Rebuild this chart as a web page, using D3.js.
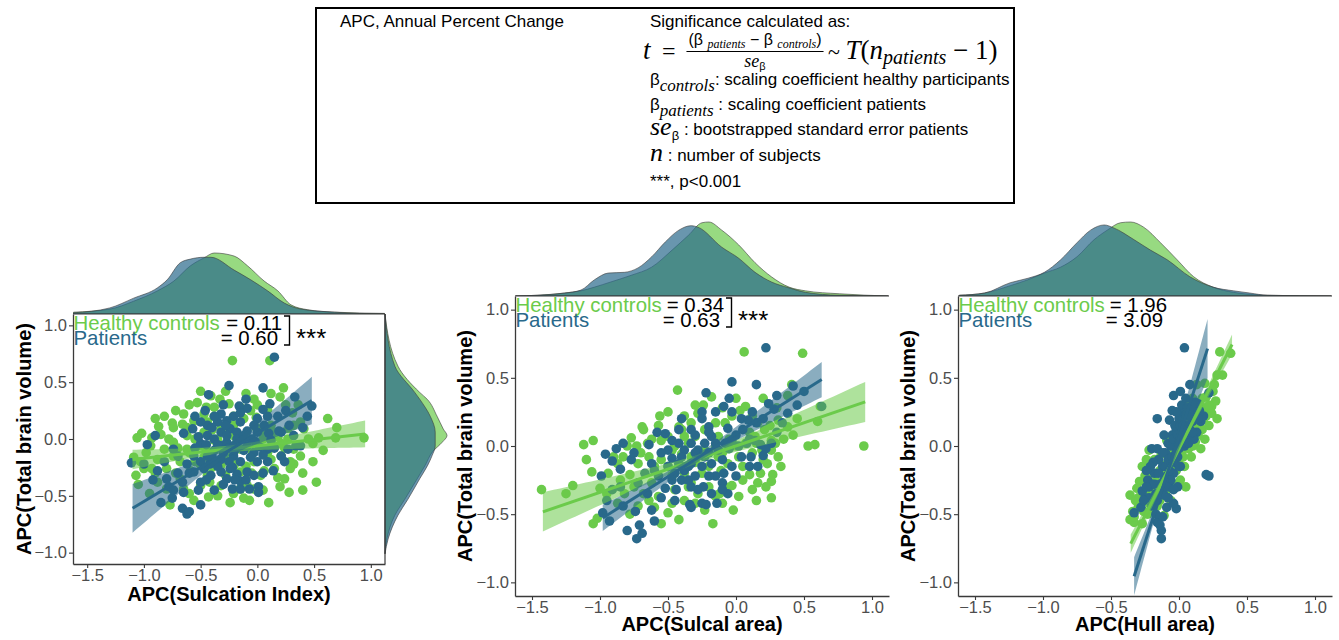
<!DOCTYPE html>
<html>
<head>
<meta charset="utf-8">
<script src="https://cdn.jsdelivr.net/npm/d3@7"></script>
<style>
  body { margin: 0; background: #fff; }
  svg { display: block; font-family: "Liberation Sans", Arial, Helvetica, sans-serif; }
</style>
</head>
<body>
<svg id="fig" width="1339" height="640"></svg>
<script>
// ---------------- data ----------------
const xTickValues = [-1.5, -1.0, -0.5, 0.0, 0.5, 1.0];
const yTickValues = [-1.0, -0.5, 0.0, 0.5, 1.0];
const groupNames = ["Healthy controls", "Patients"];
const xTitles = ["APC(Sulcation Index)", "APC(Sulcal area)", "APC(Hull area)"];
const yTitle = "APC(Total brain volume)";

// regression slopes (as printed) and intercepts per panel
const slopesControls = [0.11, 0.34, 1.96];
const slopesPatients = [0.60, 0.63, 3.09];
const interceptsControls = [-0.06, 0.0, -0.02];
const interceptsPatients = [0.05, 0.09, 0.065];
const fitRangeControls = [[-1.1, 0.95], [-1.42, 0.95], [-0.355, 0.39]];
const fitRangePatients = [[-1.1, 0.48], [-0.98, 0.63], [-0.33, 0.21]];
// confidence band: [x mean, half-width at mean, growth with distance]
const bandControls = [[-0.25, 0.03, 0.095], [-0.25, 0.03, 0.12], [0.0, 0.02, 0.18]];
const bandPatients = [[-0.30, 0.05, 0.26], [-0.30, 0.03, 0.135], [-0.12, 0.03, 0.65]];
const significance = ["***", "***", ""];

// subject-level APC values [x, APC(Total brain volume)]
const sulcationControls = [
[-0.22,0.69],[0.11,0.69],[-0.50,0.42],[-0.33,0.35],[0.23,0.45],[0.20,0.37],[-0.65,0.22],[-0.75,0.14],[-0.66,0.13],[-0.87,0.11],
[-1.02,0.05],[-1.06,0.01],[-0.93,0.01],[-0.74,0.10],[-0.56,0.16],[-0.47,0.22],[-0.38,0.28],[-0.25,0.31],[-0.06,0.25],[-0.01,0.19],
[0.09,0.26],[0.31,0.23],[0.41,0.09],[0.62,0.18],[0.54,0.01],[0.69,0.01],[0.94,0.01],[0.49,-0.04],[0.49,-0.20],[0.52,-0.38],
[0.28,-0.47],[0.29,-0.26],[0.24,-0.35],[0.18,-0.34],[0.10,-0.56],[-0.07,-0.54],[-0.21,-0.48],[-0.24,-0.56],[-0.43,-0.51],[-0.56,-0.54],
[-0.77,-0.58],[-0.88,-0.38],[-1.07,-0.32],[-1.00,-0.26],[-0.88,-0.18],[-0.82,-0.09],[-0.74,-0.15],[-0.62,-0.09],[-0.50,-0.06],[-0.38,-0.01],
[-0.59,-0.28],[-0.44,-0.32],[-0.32,-0.23],[-0.15,-0.29],[-0.03,-0.20],[0.03,-0.32],[0.15,-0.26],[0.21,-0.15],[0.09,-0.12],[0.27,0.00],
[0.32,0.12],[0.38,0.15],[0.15,0.06],[0.03,0.07],[-0.21,0.12],[-0.32,0.09],[-0.47,0.06],[-0.62,0.03],[-0.74,-0.03],[-0.94,-0.06],
[-1.09,-0.16],[-0.15,-0.09],[-0.09,-0.41],[-0.32,-0.41],[-0.50,-0.41],[-0.65,-0.44],[-0.80,-0.44],[-0.38,0.20],[-0.21,0.20],[-0.12,0.18],
[-0.01,0.10],[0.21,-0.04],[0.32,-0.09],[0.38,-0.15],[0.32,-0.22],[-0.68,-0.20],[-0.80,-0.26],[-0.47,-0.16],[-0.27,-0.15],[-0.21,0.03],
[-0.44,0.15],[-0.53,0.32],[-0.41,0.38],[-0.03,0.35],[-0.68,-0.35],[-0.93,-0.26],[-1.03,-0.20],[0.00,-0.06],[0.15,-0.06],[0.27,0.09],
[0.29,-0.20],[-0.35,-0.06],[-0.50,-0.23],[-0.15,-0.44],[-0.03,-0.44],
[-0.60,-0.12],[-0.55,0.00],[-0.45,-0.10],[-0.40,0.08],[-0.30,-0.10],[-0.25,0.05],[-0.18,-0.03],[-0.10,0.02],[-0.05,-0.10],[0.05,0.00],
[0.12,0.12],[0.18,0.02],[0.24,-0.08],[0.06,-0.28],[-0.10,-0.24],[-0.20,-0.22],[-0.40,-0.25],[-0.55,-0.20],[-0.70,-0.08],[-0.85,0.04],
[-0.98,-0.12],[-0.90,-0.30],[-0.72,-0.30],[-0.60,-0.48],[-0.35,-0.50],[-0.12,-0.52],[0.05,-0.45],[0.20,-0.42],[0.40,-0.30],[0.45,0.00],
[0.36,0.30],[0.25,0.30],[0.12,0.40],[-0.10,0.40],[-0.28,0.42],[-0.60,0.30],[-0.72,0.25],[-0.82,0.20],[-0.90,0.18],[-0.42,-0.38],
[-0.28,-0.32],[-0.05,-0.30],[0.12,-0.18],[-0.62,0.10],[-0.35,0.00],[0.00,0.30],[0.40,-0.45],[0.58,-0.10],[0.70,0.10],[-1.05,-0.40],
[-0.95,-0.48],[-0.78,0.00],[0.08,0.05],[-0.45,0.28],[-0.15,0.28]
];
const sulcationPatients = [
[0.15,0.72],[-0.25,0.47],[0.05,0.45],[-0.43,0.39],[0.33,0.37],[0.48,0.29],[0.11,0.31],[-0.09,0.27],[-0.16,0.29],[-0.32,0.22],
[-0.46,0.25],[-0.21,0.20],[0.00,0.18],[0.09,0.20],[-0.57,0.09],[-0.44,0.12],[-0.35,0.15],[-0.27,0.16],[-0.15,0.15],[-0.03,0.12],
[0.19,0.07],[0.00,0.06],[-0.90,0.03],[-0.97,-0.05],[-1.11,-0.21],[-0.88,-0.28],[-0.85,-0.56],[-0.75,-0.52],[-0.74,-0.45],[-0.66,-0.38],
[-0.65,-0.47],[-0.66,-0.61],[-0.62,-0.66],[-0.60,-0.64],[-0.50,-0.58],[-0.38,-0.45],[-0.22,-0.44],[-0.15,-0.44],[-0.07,-0.44],[0.01,-0.42],
[0.01,-0.47],[-0.18,-0.31],[-0.09,-0.29],[0.00,-0.20],[0.09,-0.20],[0.24,-0.20],[0.09,-0.09],[0.21,0.06],[0.34,-0.06],[0.27,-0.09],
[-0.47,-0.26],[-0.41,-0.32],[-0.32,-0.29],[-0.24,-0.26],[-0.50,-0.20],[-0.44,-0.15],[-0.38,-0.10],[-0.32,-0.06],[-0.27,-0.03],[-0.21,-0.06],
[-0.15,0.00],[-0.09,-0.06],[-0.03,-0.12],[-0.21,-0.15],[-0.15,-0.20],[-0.32,-0.18],[-0.38,-0.20],[-0.56,-0.29],[-0.56,-0.15],[-0.44,0.03],
[-0.32,0.06],[-0.24,0.09],[-0.18,0.06],[-0.09,0.07],[-0.74,-0.09],[-0.82,-0.20],[-0.80,-0.35],[0.02,-0.07],[0.12,-0.01],[0.18,0.20],
[0.06,0.12],[-0.15,0.23],[-0.38,0.20],[-0.50,0.15],[-0.27,-0.35],[-0.15,-0.37],[-0.03,-0.32],[-0.50,-0.38],[-0.62,-0.22],[0.21,-0.15],
[0.32,0.03],[0.38,-0.06],[-0.27,0.03],[-0.38,0.00],[-0.50,-0.04],
[-0.45,-0.05],[-0.40,-0.15],[-0.35,-0.24],[-0.30,-0.12],[-0.25,-0.20],[-0.20,-0.10],[-0.18,0.00],[-0.12,-0.10],[-0.06,-0.16],[-0.02,-0.02],
[0.05,-0.14],[0.10,0.05],[0.15,-0.08],[-0.28,0.12],[-0.40,0.10],[-0.52,0.02],[-0.55,-0.08],[-0.60,-0.30],[-0.52,-0.45],[-0.45,-0.36],
[-0.30,-0.40],[-0.20,-0.36],[-0.10,-0.36],[0.05,-0.30],[0.14,-0.28],[-0.70,-0.30],[-0.78,-0.42],[-0.92,-0.36],[-1.00,-0.22],[-0.70,-0.15],
[-0.65,0.05],[-0.55,0.20],[-0.30,0.30],[-0.10,0.35],[0.05,0.26],[0.25,0.25],[0.28,0.12],[0.40,0.10],[0.44,0.20],[-0.35,-0.05],
[-0.25,-0.08],[-0.12,0.03],[-0.42,-0.22],[-0.05,0.00],[-0.22,-0.25]
];
const sulcalAreaControls = [
[0.06,0.69],[0.49,0.68],[-0.43,0.41],[-1.43,-0.32],[-1.20,-0.29],[-1.12,0.01],[-1.05,0.04],[-1.06,-0.19],[-1.00,-0.31],[-1.05,-0.57],
[-1.02,-0.53],[0.94,0.00],[0.53,0.00],[0.58,0.01],[0.60,0.18],[0.62,0.29],[0.42,0.08],[0.41,0.45],[0.38,0.37],[0.38,0.14],
[0.31,0.19],[0.29,0.02],[0.26,-0.03],[0.27,-0.21],[0.26,-0.26],[0.26,-0.38],[0.23,-0.13],[0.18,-0.20],[0.10,-0.21],[0.07,0.29],
[0.12,0.22],[0.03,0.26],[-0.02,-0.47],[-0.03,-0.29],[-0.12,-0.35],[-0.11,-0.18],[-0.17,-0.57],[-0.18,0.36],[-0.24,0.30],[-0.28,0.24],
[-0.33,0.17],[-0.38,0.22],[-0.56,0.22],[-0.57,0.15],[-0.69,0.14],[-0.68,0.12],[-0.77,0.06],[-0.73,0.00],[-0.83,-0.08],[-0.87,-0.13],
[-0.94,-0.20],[-0.78,-0.21],[-0.72,-0.13],[-0.64,-0.08],[-0.60,-0.15],[-0.55,0.04],[-0.50,0.07],[-0.47,-0.03],[-0.62,-0.27],[-0.57,-0.37],
[-0.50,-0.49],[-0.55,-0.57],[-0.42,-0.54],[-0.47,-0.42],[-0.38,-0.40],[-0.30,-0.42],[-0.23,-0.47],[-0.15,-0.37],[-0.08,-0.30],[-0.33,-0.27],
[-0.25,-0.20],[-0.38,-0.20],[-0.47,-0.22],[-0.42,-0.13],[-0.33,-0.08],[-0.23,-0.03],[-0.13,-0.08],[-0.06,-0.13],[0.02,-0.08],[0.07,0.02],
[0.14,0.07],[0.16,0.17],[0.21,0.12],[0.31,-0.08],[-0.13,0.07],[-0.08,0.17],[-0.03,0.22],[-0.15,0.17],[-0.23,0.12],[-0.30,0.07],
[-0.38,0.07],[-0.42,0.14],[-0.82,-0.35],[-0.87,-0.42],[-0.72,-0.44],[-0.64,-0.40],[-0.28,-0.35],[0.02,-0.37],[0.12,-0.32],[0.16,-0.27],
[0.19,-0.03],[0.26,0.04],
[-0.55,-0.10],[-0.50,-0.15],[-0.45,0.00],[-0.40,-0.06],[-0.35,0.02],[-0.30,-0.12],[-0.25,-0.06],[-0.20,-0.15],[-0.15,0.00],[-0.10,-0.05],
[-0.05,0.05],[0.00,0.00],[0.05,-0.15],[0.10,0.10],[0.15,0.02],[0.20,-0.10],[0.25,0.15],[0.35,0.05],[0.45,0.20],[-0.65,0.02],
[-0.70,-0.05],[-0.80,0.00],[-0.90,-0.08],[-0.95,-0.35],[-0.85,-0.25],[-0.75,-0.30],[-0.68,-0.35],[-0.60,-0.45],[-0.45,-0.32],[-0.35,-0.30],
[-0.20,-0.30],[-0.10,-0.42],[0.05,-0.25],[0.15,-0.40],[0.22,-0.30],[-0.30,0.30],[-0.10,0.28],[0.00,0.35],[0.20,0.35],[0.30,0.28],
[-0.50,0.25],[-0.62,0.05],[-1.10,-0.10],[-1.25,-0.35],[-0.78,-0.50],[-0.40,0.12],[0.12,-0.05],[0.33,-0.15]
];
const sulcalAreaPatients = [
[0.22,0.72],[-0.03,0.47],[0.15,0.45],[-0.22,0.39],[0.30,0.37],[0.63,0.29],[0.42,0.44],[0.24,0.31],[0.28,0.27],[-0.09,0.29],
[-0.03,0.25],[-0.25,0.25],[-0.25,0.20],[0.04,0.20],[0.09,0.19],[0.15,0.17],[-0.06,0.13],[-0.83,0.02],[-0.64,0.01],[-0.96,-0.06],
[-0.91,-0.11],[-0.85,-0.17],[-0.99,-0.22],[-0.98,-0.49],[-0.93,-0.55],[-0.83,-0.44],[-0.80,-0.62],[-0.73,-0.68],[-0.69,-0.64],[-0.71,-0.58],
[-0.74,-0.48],[-0.62,-0.47],[-0.52,-0.31],[-0.44,-0.32],[-0.34,-0.43],[-0.33,-0.45],[-0.25,-0.42],[-0.22,-0.43],[-0.14,-0.42],[-0.33,-0.30],
[-0.24,-0.30],[-0.15,-0.22],[-0.09,-0.20],[-0.03,-0.15],[0.04,-0.08],[0.10,-0.15],[0.16,-0.15],[0.11,-0.08],[0.20,-0.07],[0.02,0.00],
[0.08,0.02],[0.14,0.04],[0.18,0.01],[-0.52,0.09],[-0.42,0.12],[-0.50,-0.03],[-0.47,-0.09],[-0.42,-0.13],[-0.38,-0.18],[-0.33,-0.13],
[-0.28,-0.03],[-0.23,-0.08],[-0.18,-0.13],[-0.13,-0.03],[-0.08,0.02],[-0.03,0.04],[-0.33,0.02],[-0.38,-0.03],[-0.42,0.02],[-0.47,0.04],
[-0.62,-0.13],[-0.67,-0.20],[-0.72,-0.27],[-0.57,-0.22],[-0.47,-0.25],[-0.40,-0.25],[-0.30,-0.22],[-0.20,-0.22],[-0.10,-0.27],[-0.06,-0.35],
[-0.23,0.02],[-0.20,0.14],[-0.33,0.12],[-0.18,0.07],[0.26,0.02],[0.34,0.17],[0.38,0.24],[-0.77,-0.10],[-0.91,-0.32],
[-0.60,-0.18],[-0.55,-0.05],[-0.50,-0.15],[-0.45,-0.20],[-0.40,-0.08],[-0.35,-0.15],[-0.30,-0.05],[-0.25,-0.15],[-0.20,-0.05],[-0.15,0.02],
[-0.10,-0.10],[-0.05,-0.02],[0.00,0.08],[0.05,0.12],[0.10,0.05],[0.12,0.25],[0.20,0.20],[-0.35,-0.25],[-0.28,-0.32],[-0.18,-0.35],
[-0.55,-0.38],[-0.65,-0.35],[-0.85,-0.30],[-0.95,-0.40],[-0.60,-0.55],[-0.45,-0.40],[0.30,0.10],[0.45,0.30],[0.50,0.40],[-0.15,0.25],
[-0.05,0.35],[-0.40,0.20],[-0.58,0.10],[-0.75,-0.05],[-0.88,-0.02],[-0.10,-0.32],[0.00,-0.22],[0.22,-0.02],[-0.30,0.08],[-0.20,0.10]
];
const hullControls = [
[-0.36,-0.36],[-0.36,-0.54],[-0.33,-0.56],[-0.27,-0.57],[-0.33,-0.52],[-0.30,-0.45],[-0.28,-0.40],[-0.25,-0.22],[-0.22,-0.03],[-0.11,-0.51],
[-0.25,-0.33],[-0.22,-0.42],[-0.20,-0.30],[-0.18,-0.38],[-0.17,-0.26],[-0.15,-0.33],[-0.14,-0.18],[-0.12,-0.28],[-0.10,-0.14],[-0.10,-0.35],
[-0.08,-0.22],[-0.07,-0.08],[-0.05,-0.18],[-0.04,-0.02],[-0.03,-0.28],[-0.02,0.05],[0.00,-0.10],[0.00,0.02],[0.02,-0.05],[0.03,0.10],
[0.04,-0.15],[0.05,0.06],[0.06,0.15],[0.07,-0.02],[0.08,0.20],[0.09,0.08],[0.10,0.25],[0.11,0.14],[0.12,0.03],[0.13,0.22],
[0.14,0.30],[0.15,0.12],[0.17,0.12],[0.17,0.35],[0.18,0.20],[0.19,0.46],[0.20,0.36],[0.21,0.28],[0.22,0.15],[0.24,0.29],
[0.24,0.24],[0.25,0.40],[0.27,0.33],[0.30,0.69],[0.38,0.68],[0.32,0.52],[0.11,0.14],[-0.21,-0.12],[-0.19,-0.48],[-0.16,-0.44],
[-0.13,-0.06],[-0.06,-0.40],[0.01,-0.25],[0.05,-0.30],[0.09,-0.08],[0.13,0.45],[0.16,-0.02],[-0.29,-0.26],[-0.24,-0.10],[-0.31,-0.31],
[-0.23,-0.50],[-0.09,0.04],[0.02,0.22],[0.07,0.33],[0.19,0.05],
[-0.30,-0.38],[-0.26,-0.48],[-0.24,-0.28],[-0.20,-0.20],[-0.18,-0.10],[-0.16,-0.30],[-0.14,-0.40],[-0.12,-0.20],[-0.10,-0.25],[-0.08,-0.12],
[-0.06,-0.05],[-0.04,-0.12],[-0.02,-0.18],[0.00,0.10],[0.02,0.05],[0.04,0.00],[0.06,0.00],[0.08,0.10],[0.10,0.00],[0.12,0.18],
[0.14,0.08],[0.16,0.25],[0.18,0.28],[0.20,0.22],[0.22,0.30],[0.26,0.45],[0.28,0.52],[0.28,0.20],[-0.34,-0.48],[-0.32,-0.40],
[-0.27,-0.15],[-0.22,-0.35],[0.10,0.35],[-0.05,-0.30],[0.03,-0.08]
];
const hullPatients = [
[0.04,0.72],[0.08,0.45],[-0.04,0.37],[-0.16,0.20],[-0.07,0.19],[-0.20,-0.02],[-0.33,-0.49],[-0.16,-0.56],[-0.13,-0.62],[-0.13,-0.68],
[0.20,-0.21],[0.22,-0.22],[0.22,0.39],[0.15,0.26],[0.14,0.31],[0.09,0.29],[-0.02,-0.46],[-0.09,-0.45],[-0.04,-0.42],[-0.25,-0.38],
[-0.22,-0.30],[-0.20,-0.44],[-0.18,-0.20],[-0.17,-0.35],[-0.15,-0.10],[-0.14,-0.28],[-0.12,-0.15],[-0.11,-0.36],[-0.10,-0.05],[-0.09,-0.22],
[-0.08,0.02],[-0.07,-0.30],[-0.06,-0.12],[-0.05,0.08],[-0.04,-0.20],[-0.03,0.00],[-0.02,0.12],[-0.01,-0.08],[0.00,0.05],[0.00,0.20],
[0.01,-0.15],[0.02,0.10],[0.03,0.25],[0.04,0.00],[0.05,0.15],[0.06,0.06],[0.07,0.22],[0.08,0.12],[0.10,0.18],[0.12,0.25],
[0.13,0.10],[-0.23,-0.25],[-0.27,-0.33],[-0.19,-0.12],[-0.12,-0.52],[-0.14,-0.58],[-0.08,-0.38],[-0.06,-0.25],[-0.01,-0.30],[0.02,0.30],
[-0.03,0.15],[0.05,0.35],[0.11,0.05],[-0.16,-0.02],[-0.21,-0.15],[-0.11,0.08],[0.01,0.40],[-0.05,0.26],[0.16,0.18],[0.18,0.22],
[-0.24,-0.18],[-0.28,-0.45],
[-0.22,-0.38],[-0.20,-0.28],[-0.18,-0.28],[-0.16,-0.40],[-0.15,-0.20],[-0.13,-0.30],[-0.12,-0.05],[-0.10,-0.15],[-0.09,-0.30],[-0.08,-0.10],
[-0.07,-0.18],[-0.06,0.00],[-0.05,-0.08],[-0.04,0.05],[-0.03,-0.12],[-0.02,-0.05],[-0.02,0.25],[-0.01,0.08],[0.00,-0.02],[0.01,0.15],
[0.02,0.02],[0.03,0.15],[0.04,0.10],[0.05,0.22],[0.06,0.28],[0.08,0.22],[0.10,0.10],[0.12,0.32],[0.14,0.20],[-0.26,-0.40],
[-0.24,-0.30],[-0.17,-0.50],[-0.11,-0.25],[-0.04,-0.32],[0.00,-0.15],[0.07,0.02]
];

// marginal densities [value, relative density]
const densTopSulcationControls = [[-1.62,0.03],[-1.30,0.08],[-1.09,0.21],[-0.88,0.38],[-0.736,0.54],[-0.59,0.79],[-0.47,0.92],[-0.38,1.0],[-0.205,0.95],[-0.087,0.79],[0.06,0.54],[0.18,0.38],[0.296,0.15],[0.444,0.07],[0.68,0.03],[1.12,0.01]];
const densTopSulcationPatients = [[-1.62,0.02],[-1.30,0.10],[-1.09,0.26],[-0.88,0.43],[-0.795,0.56],[-0.68,0.84],[-0.59,0.90],[-0.47,0.93],[-0.41,0.93],[-0.205,0.72],[-0.058,0.56],[0.09,0.38],[0.237,0.18],[0.385,0.08],[0.68,0.03],[1.12,0.0]];
const densRightSulcationControls = [[1.10,0.0],[0.64,0.21],[0.41,0.56],[0.35,0.68],[0.20,0.84],[0.088,0.94],[0.03,1.0],[-0.03,0.92],[-0.11,0.77],[-0.23,0.65],[-0.35,0.52],[-0.53,0.32],[-0.67,0.16],[-0.88,0.03],[-1.01,0.0]];
const densRightSulcationPatients = [[1.10,0.0],[0.64,0.16],[0.41,0.48],[0.35,0.56],[0.20,0.73],[0.06,0.81],[-0.06,0.81],[-0.146,0.76],[-0.23,0.69],[-0.35,0.56],[-0.53,0.37],[-0.67,0.21],[-0.88,0.05],[-1.01,0.0]];
const densTopSulcalAreaControls = [[-1.62,0.0],[-1.46,0.01],[-1.26,0.04],[-1.14,0.07],[-1.04,0.12],[-0.92,0.19],[-0.77,0.28],[-0.62,0.39],[-0.47,0.62],[-0.35,0.82],[-0.25,0.99],[-0.20,1.0],[-0.105,0.89],[0.02,0.69],[0.14,0.45],[0.26,0.26],[0.39,0.12],[0.51,0.07],[0.76,0.03],[1.12,0.0]];
const densTopSulcalAreaPatients = [[-1.62,0.0],[-1.46,0.01],[-1.26,0.04],[-1.14,0.08],[-1.04,0.22],[-0.94,0.31],[-0.82,0.32],[-0.72,0.38],[-0.62,0.53],[-0.52,0.73],[-0.42,0.89],[-0.33,0.95],[-0.28,0.93],[-0.105,0.66],[0.02,0.51],[0.14,0.32],[0.26,0.19],[0.39,0.11],[0.51,0.05],[0.76,0.01],[1.12,0.0]];
const densTopHullControls = [[-1.615,0.01],[-1.43,0.04],[-1.24,0.14],[-1.11,0.22],[-0.99,0.31],[-0.87,0.39],[-0.75,0.53],[-0.625,0.76],[-0.527,0.89],[-0.43,0.99],[-0.356,1.0],[-0.26,0.93],[-0.136,0.72],[-0.014,0.49],[0.108,0.26],[0.25,0.12],[0.40,0.05],[0.65,0.01],[1.12,0.0]];
const densTopHullPatients = [[-1.615,0.01],[-1.43,0.04],[-1.24,0.18],[-1.11,0.24],[-0.99,0.32],[-0.87,0.49],[-0.75,0.72],[-0.65,0.89],[-0.55,0.96],[-0.48,0.92],[-0.33,0.76],[-0.21,0.62],[-0.087,0.49],[0.08,0.26],[0.25,0.12],[0.40,0.07],[0.52,0.04],[0.65,0.01],[1.12,0.0]];

// ---------------- drawing ----------------
const colControls = "#6bcb4b";
const colPatients = "#29698b";
const sans = '"Liberation Sans", Arial, Helvetica, sans-serif';
const serif = '"Liberation Serif", "Times New Roman", Times, serif';
const svg = d3.select("#fig");

const panels = [
  { left: 73,  right: 385,  top: 314, bottom: 564, densH: 61, rightDensW: 62, yTitleX: 31,  xTitleY: 601,
    ctl: sulcationControls, pat: sulcationPatients, dTopC: densTopSulcationControls, dTopP: densTopSulcationPatients,
    dRightC: densRightSulcationControls, dRightP: densRightSulcationPatients },
  { left: 515, right: 889,  top: 296, bottom: 596, densH: 74, yTitleX: 472, xTitleY: 631,
    ctl: sulcalAreaControls, pat: sulcalAreaPatients, dTopC: densTopSulcalAreaControls, dTopP: densTopSulcalAreaPatients },
  { left: 958, right: 1332, top: 296, bottom: 596, densH: 74, yTitleX: 915, xTitleY: 631,
    ctl: hullControls, pat: hullPatients, dTopC: densTopHullControls, dTopP: densTopHullPatients }
];

panels.forEach((p, i) => {
  const g = svg.append("g");
  const x = d3.scaleLinear().domain([-1.625, 1.125]).range([p.left, p.right]);
  const y = d3.scaleLinear().domain([-1.1, 1.1]).range([p.bottom, p.top]);

  const clipId = "clip" + i;
  svg.append("clipPath").attr("id", clipId).append("rect")
    .attr("x", p.left).attr("y", p.top).attr("width", p.right - p.left).attr("height", p.bottom - p.top);

  // top marginal density
  const dy = d3.scaleLinear().domain([0, 1]).range([p.top, p.top - p.densH]);
  const topArea = d3.area().x(d => x(d[0])).y0(p.top).y1(d => dy(d[1])).curve(d3.curveMonotoneX);
  const topClip = "tclip" + i;
  svg.append("clipPath").attr("id", topClip).append("rect")
    .attr("x", p.left).attr("y", p.top - p.densH - 5).attr("width", p.right - p.left).attr("height", p.densH + 5);
  const tg = g.append("g").attr("clip-path", `url(#${topClip})`);
  [[p.dTopC, colControls], [p.dTopP, colPatients]].forEach(([d, c]) => {
    tg.append("path").datum(d).attr("d", topArea)
      .attr("fill", c).attr("fill-opacity", 0.7)
      .attr("stroke", "#3a3a3a").attr("stroke-width", 0.6);
  });
  g.append("line").attr("x1", p.left).attr("x2", p.right).attr("y1", p.top).attr("y2", p.top)
    .attr("stroke", "#3a3a3a").attr("stroke-width", 1.2);

  // right marginal density
  if (p.dRightC) {
    const dx = d3.scaleLinear().domain([0, 1]).range([p.right, p.right + p.rightDensW]);
    const rightArea = d3.area().y(d => y(d[0])).x0(p.right).x1(d => dx(d[1])).curve(d3.curveMonotoneY);
    [[p.dRightC, colControls], [p.dRightP, colPatients]].forEach(([d, c]) => {
      g.append("path").datum(d).attr("d", rightArea)
        .attr("fill", c).attr("fill-opacity", 0.7)
        .attr("stroke", "#3a3a3a").attr("stroke-width", 0.6);
    });
    g.append("line").attr("x1", p.right).attr("x2", p.right).attr("y1", p.top).attr("y2", p.bottom)
      .attr("stroke", "#3a3a3a").attr("stroke-width", 1.2);
  }

  // points
  const pg = g.append("g").attr("clip-path", `url(#${clipId})`);
  [[p.ctl, colControls], [p.pat, colPatients]].forEach(([d, c]) => {
    pg.append("g").selectAll("circle").data(d).join("circle")
      .attr("cx", v => x(v[0])).attr("cy", v => y(v[1])).attr("r", 4.8).attr("fill", c);
  });

  // fitted lines with confidence bands
  const fits = [
    { slope: slopesControls[i], icpt: interceptsControls[i], range: fitRangeControls[i], band: bandControls[i], col: colControls },
    { slope: slopesPatients[i], icpt: interceptsPatients[i], range: fitRangePatients[i], band: bandPatients[i], col: colPatients }
  ];
  fits.forEach(f => {
    const xs = d3.range(0, 61).map(k => f.range[0] + (f.range[1] - f.range[0]) * k / 60);
    const hw = v => Math.sqrt(f.band[1] ** 2 + (f.band[2] * (v - f.band[0])) ** 2);
    const band = d3.area().x(v => x(v))
      .y0(v => y(f.icpt + f.slope * v - hw(v)))
      .y1(v => y(f.icpt + f.slope * v + hw(v)));
    pg.append("path").datum(xs).attr("d", band).attr("fill", f.col).attr("fill-opacity", 0.55);
    pg.append("line")
      .attr("x1", x(f.range[0])).attr("y1", y(f.icpt + f.slope * f.range[0]))
      .attr("x2", x(f.range[1])).attr("y2", y(f.icpt + f.slope * f.range[1]))
      .attr("stroke", f.col).attr("stroke-width", 3);
  });

  // axes
  const fmt = d3.format(".1f");
  const xa = g.append("g").attr("transform", `translate(0,${p.bottom})`)
    .call(d3.axisBottom(x).tickValues(xTickValues).tickFormat(fmt).tickSize(4).tickSizeOuter(0).tickPadding(1));
  const ya = g.append("g").attr("transform", `translate(${p.left},0)`)
    .call(d3.axisLeft(y).tickValues(yTickValues).tickFormat(fmt).tickSize(4).tickSizeOuter(0).tickPadding(2));
  [xa, ya].forEach(a => {
    a.select(".domain").attr("stroke", "#3a3a3a").attr("stroke-width", 1.3);
    a.selectAll(".tick line").attr("stroke", "#3a3a3a").attr("stroke-width", 1.1);
    a.selectAll(".tick text").attr("fill", "#4d4d4d").style("font-size", "16.5px").style("font-family", sans);
  });

  // axis titles
  g.append("text").attr("x", (p.left + p.right) / 2).attr("y", p.xTitleY)
    .attr("text-anchor", "middle").style("font-size", "20px").style("font-weight", "bold").text(xTitles[i]);
  g.append("text").attr("transform", `translate(${p.yTitleX},${(p.top + p.bottom) / 2}) rotate(-90)`)
    .attr("text-anchor", "middle").style("font-size", "20px").style("font-weight", "bold").text(yTitle);

  // slope legend
  const vf = d3.format(".2f");
  const lg = g.append("g").style("font-size", "20.4px");
  lg.append("text").attr("x", p.left + 0.5).attr("y", p.top + 15.5).attr("fill", colControls).text(groupNames[0]);
  lg.append("text").attr("x", p.left + 0.5).attr("y", p.top + 31).attr("fill", colPatients).text(groupNames[1]);
  lg.append("text").attr("x", p.left + 209).attr("y", p.top + 15.5).attr("text-anchor", "end").text("= " + vf(slopesControls[i]));
  lg.append("text").attr("x", p.left + 205).attr("y", p.top + 31).attr("text-anchor", "end").text("= " + vf(slopesPatients[i]));
  if (significance[i]) {
    g.append("path")
      .attr("d", `M${p.left + 211},${p.top + 2}H${p.left + 216.5}V${p.top + 31}H${p.left + 211}`)
      .attr("fill", "none").attr("stroke", "#000").attr("stroke-width", 1.4);
    g.append("text").attr("x", p.left + 223).attr("y", p.top + 33).style("font-size", "26px").text(significance[i]);
  }
});

// ---------------- note box ----------------
const note = svg.append("g").style("font-size", "17px");
note.append("rect").attr("x", 316).attr("y", 8).attr("width", 698).attr("height", 195)
  .attr("fill", "none").attr("stroke", "#000").attr("stroke-width", 2);
note.append("text").attr("x", 340).attr("y", 27).text("APC, Annual Percent Change");
note.append("text").attr("x", 650).attr("y", 27).text("Significance calculated as:");

// t statistic formula
note.append("text").attr("x", 643).attr("y", 59).style("font-family", serif).style("font-style", "italic").style("font-size", "27px").text("t");
note.append("text").attr("x", 662).attr("y", 59).style("font-family", serif).style("font-size", "24px").text("=");
const num = note.append("text").attr("x", 755).attr("y", 45).attr("text-anchor", "middle").style("font-size", "16px");
num.append("tspan").text("(β ");
num.append("tspan").attr("dy", 3).style("font-family", serif).style("font-style", "italic").style("font-size", "12px").text("patients");
num.append("tspan").attr("dy", -3).text(" − β ");
num.append("tspan").attr("dy", 3).style("font-family", serif).style("font-style", "italic").style("font-size", "12px").text("controls");
num.append("tspan").attr("dy", -3).text(")");
const numW = num.node().getComputedTextLength();
note.append("line").attr("x1", 755 - numW / 2 - 2).attr("x2", 755 + numW / 2 + 2).attr("y1", 51.5).attr("y2", 51.5)
  .attr("stroke", "#000").attr("stroke-width", 1);
const den = note.append("text").attr("x", 755).attr("y", 67).attr("text-anchor", "middle");
den.append("tspan").style("font-family", serif).style("font-style", "italic").style("font-size", "18px").text("se");
den.append("tspan").attr("dy", 3).style("font-size", "11px").text("β");
const tdist = note.append("text").attr("x", 828).attr("y", 59).style("font-family", serif).style("font-size", "27px");
tdist.append("tspan").style("font-size", "22px").text("~ ");
tdist.append("tspan").style("font-style", "italic").text("T");
tdist.append("tspan").text("(");
tdist.append("tspan").style("font-style", "italic").text("n");
tdist.append("tspan").attr("dy", 5).style("font-style", "italic").style("font-size", "20px").text("patients");
tdist.append("tspan").attr("dy", -5).text(" − 1)");

// symbol definitions
const r1 = note.append("text").attr("x", 650).attr("y", 85);
r1.append("tspan").text("β");
r1.append("tspan").attr("dy", 6).style("font-family", serif).style("font-style", "italic").text("controls");
r1.append("tspan").attr("dy", -6).text(": scaling coefficient healthy participants");
const r2 = note.append("text").attr("x", 650).attr("y", 110);
r2.append("tspan").text("β");
r2.append("tspan").attr("dy", 6).style("font-family", serif).style("font-style", "italic").text("patients");
r2.append("tspan").attr("dy", -6).text(" : scaling coefficient patients");
const r3 = note.append("text").attr("x", 650).attr("y", 135);
r3.append("tspan").style("font-family", serif).style("font-style", "italic").style("font-size", "26px").text("se");
r3.append("tspan").attr("dy", 5).style("font-size", "13px").text("β");
r3.append("tspan").attr("dy", -5).text(" : bootstrapped standard error patients");
const r4 = note.append("text").attr("x", 650).attr("y", 161);
r4.append("tspan").style("font-family", serif).style("font-style", "italic").style("font-size", "26px").text("n");
r4.append("tspan").text(" : number of subjects");
note.append("text").attr("x", 650).attr("y", 187).text("***, p<0.001");
</script>
</body>
</html>
